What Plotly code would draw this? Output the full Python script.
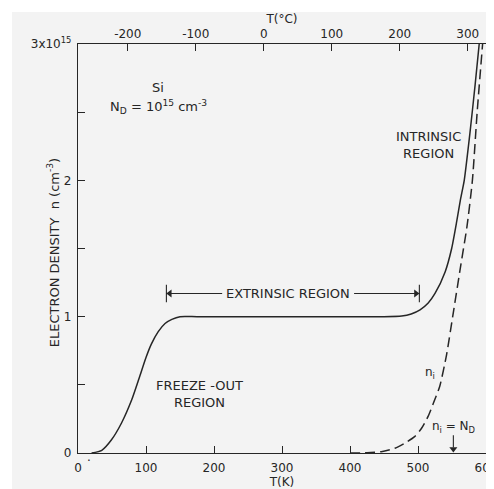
import plotly.graph_objects as go

# ---- data (n in units of 1e15 cm^-3) ----
T_n = [20, 35, 49, 64, 79, 90, 100, 108, 118, 128, 138, 150, 175, 250, 350, 450, 476, 490,
       503, 515, 525, 540, 549.5, 557, 562.5, 568, 576, 584, 590]
n_total = [0, 0.02, 0.095, 0.22, 0.39, 0.55, 0.70, 0.80, 0.89, 0.95, 0.98, 1.0, 1.0, 1.0,
           1.0, 1.0, 1.005, 1.02, 1.05, 1.1, 1.17, 1.33, 1.5, 1.7, 1.86, 2.0, 2.33, 2.7, 3.0]

T_i = [400, 425, 446, 466, 480, 495, 505, 515, 523, 532, 542, 551, 563, 572, 580, 587, 595]
n_intr = [0, 0.002, 0.01, 0.035, 0.07, 0.12, 0.18, 0.27, 0.37, 0.49, 0.72, 1.0, 1.38,
          1.66, 2.0, 2.5, 3.0]

k_ticks = [0, 100, 200, 300, 400, 500, 600]
k_labels = ["0", "100", "200", "300", "400", "500", "600"]
c_ticks = [-200, -100, 0, 100, 200, 300]
c_labels = ["-200", "-100", "0", "100", "200", "300"]
y_ticks = [0, 1, 2, 3]
y_labels = ["0", "1", "2", "3x10<sup>15</sup>"]

extrinsic_start, extrinsic_end, extrinsic_level = 130, 502, 1.17
nd_T = 552

INK = "#262626"
PAGE = "#f3f3f3"
FONT = "DejaVu Sans"

fig = go.Figure()
fig.add_trace(go.Scatter(x=T_n, y=n_total, mode="lines",
                         line=dict(color=INK, width=1.5, shape="spline", smoothing=0.6),
                         showlegend=False, hoverinfo="skip"))
fig.add_trace(go.Scatter(x=T_i, y=n_intr, mode="lines",
                         line=dict(color=INK, width=1.5, dash="10px,5px", shape="spline", smoothing=0.6),
                         showlegend=False, hoverinfo="skip"))
# invisible trace to carry the Celsius axis
fig.add_trace(go.Scatter(x=[c_ticks[0], c_ticks[-1]], y=[0, 0], xaxis="x2", mode="lines",
                         line=dict(width=0), opacity=0, showlegend=False, hoverinfo="skip"))
# arrowheads (extrinsic range and n_i = N_D marker)
fig.add_trace(go.Scatter(x=[extrinsic_start + 5, extrinsic_end - 5, nd_T],
                         y=[extrinsic_level, extrinsic_level, 0.03], mode="markers",
                         marker=dict(symbol=["triangle-left", "triangle-right", "triangle-down"],
                                     size=7, color=INK, line=dict(width=0)),
                         showlegend=False, hoverinfo="skip", cliponaxis=False))

axis_common = dict(showgrid=False, zeroline=False, showline=True, linecolor=INK, linewidth=1.3,
                   ticks="inside", ticklen=7, tickwidth=1.2, tickcolor=INK,
                   tickfont=dict(family=FONT, size=12, color=INK))

# body of the page has an 8px margin: plot area lands at x 78..486, y 44..453 on screen
fig.update_layout(
    width=494, height=489,
    margin=dict(l=70, r=16, t=36, b=44, autoexpand=False),
    paper_bgcolor=PAGE, plot_bgcolor=PAGE,
    font=dict(family=FONT, size=12, color=INK),
    xaxis=dict(range=[0, 600], tickvals=k_ticks, ticktext=k_labels, mirror=True,
               ticklabelstandoff=3,
               title=dict(text="T(K)", standoff=2, font=dict(family=FONT, size=12, color=INK)),
               **axis_common),
    xaxis2=dict(range=[-273.15, 326.85], overlaying="x", side="top", tickvals=c_ticks,
                ticktext=c_labels, ticklabelstandoff=0,
                title=dict(text="T(°C)", standoff=0, font=dict(family=FONT, size=12, color=INK)),
                **axis_common),
    yaxis=dict(range=[0, 3], tickvals=y_ticks, ticktext=y_labels, mirror=True,
               ticklabelstandoff=3,
               minor=dict(dtick=0.5, ticks="inside", ticklen=7, tickwidth=1.2, tickcolor=INK,
                          showgrid=False),
               **axis_common),
)

ann_font = dict(family=FONT, size=13, color=INK)
small_font = dict(family=FONT, size=12, color=INK)
annotations = [
    dict(x=-0.062, y=0.49, xref="paper", yref="paper", xanchor="center", yanchor="middle",
         text="ELECTRON DENSITY  n (cm<sup>-3</sup>)", textangle=-90, showarrow=False,
         font=ann_font),
    dict(x=16, y=-0.032, xref="x", yref="paper", text=".", showarrow=False, font=small_font),
    dict(x=117.4, y=2.68, xref="x", yref="y", text="Si", showarrow=False, font=ann_font),
    dict(x=118.9, y=2.535, xref="x", yref="y", text="N<sub>D</sub> = 10<sup>15</sup> cm<sup>-3</sup>",
         showarrow=False, font=ann_font),
    dict(x=515, y=2.26, xref="x", yref="y", text="INTRINSIC<br>REGION", showarrow=False,
         font=ann_font, align="center"),
    dict(x=178, y=0.43, xref="x", yref="y", text="FREEZE -OUT<br>REGION", showarrow=False,
         font=ann_font, align="center"),
    dict(x=309, y=extrinsic_level, xref="x", yref="y", text="EXTRINSIC REGION", showarrow=False,
         font=ann_font),
    dict(x=517, y=0.59, xref="x", yref="y", text="n<sub>i</sub>", showarrow=False, font=small_font),
    dict(x=nd_T, y=0.19, xref="x", yref="y", text="n<sub>i</sub> = N<sub>D</sub>", showarrow=False,
         font=small_font),
]
fig.update_layout(annotations=annotations)

line_style = dict(color=INK, width=1.1)
shapes = [
    dict(type="line", xref="x", yref="y", x0=extrinsic_start, x1=extrinsic_start,
         y0=extrinsic_level - 0.065, y1=extrinsic_level + 0.065, line=line_style),
    dict(type="line", xref="x", yref="y", x0=extrinsic_end, x1=extrinsic_end,
         y0=extrinsic_level - 0.065, y1=extrinsic_level + 0.065, line=line_style),
    dict(type="line", xref="x", yref="y", x0=extrinsic_start, x1=212,
         y0=extrinsic_level, y1=extrinsic_level, line=line_style),
    dict(type="line", xref="x", yref="y", x0=406, x1=extrinsic_end,
         y0=extrinsic_level, y1=extrinsic_level, line=line_style),
    dict(type="line", xref="x", yref="y", x0=nd_T, x1=nd_T, y0=0.04, y1=0.13, line=line_style),
    # white page margins of the scan
    dict(type="rect", xref="paper", yref="paper", x0=-0.25, x1=-0.1618, y0=-0.2, y1=1.2,
         line=dict(width=0), fillcolor="white", layer="below"),
    dict(type="rect", xref="paper", yref="paper", x0=-0.25, x1=1.1, y0=1.0782, y1=1.2,
         line=dict(width=0), fillcolor="white", layer="below"),
]
fig.update_layout(shapes=shapes)

fig.write_html("out.html")
